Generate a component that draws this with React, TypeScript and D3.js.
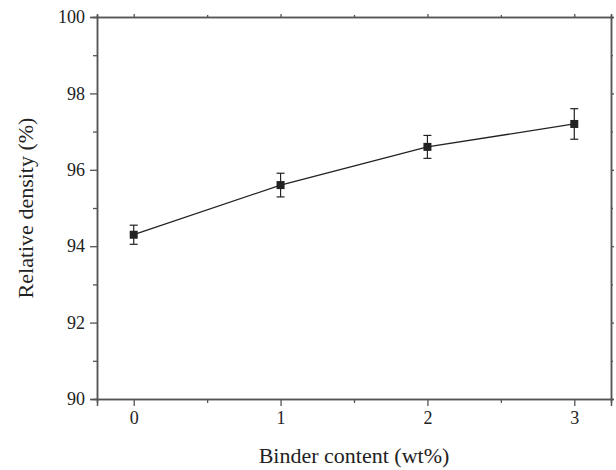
import React, { useRef, useEffect } from "react";
import * as d3 from "d3";

const binder = [0, 1, 2, 3];
const density = [94.3, 95.6, 96.6, 97.2];
const densityErr = [0.25, 0.31, 0.3, 0.4];
const xTicks = [0, 1, 2, 3];
const yTicks = [90, 92, 94, 96, 98, 100];

const W = 616;
const H = 470;
const margin = { top: 17, right: 5, bottom: 71, left: 97 };

const App = () => {
  const ref = useRef<SVGSVGElement>(null);

  useEffect(() => {
    const svg = d3.select(ref.current);
    svg.selectAll("*").remove();

    const iw = W - margin.left - margin.right;
    const ih = H - margin.top - margin.bottom;
    const x = d3.scaleLinear().domain([-0.25, 3.25]).range([0, iw]);
    const y = d3.scaleLinear().domain([90, 100]).range([ih, 0]);

    const g = svg
      .append("g")
      .attr("transform", `translate(${margin.left},${margin.top})`);

    const font = "'Liberation Serif', 'Times New Roman', serif";
    const axisColor = "#555";

    const minorX = d3.range(0, 3.01, 0.5).filter((v) => !xTicks.includes(v));
    const minorY = d3.range(91, 100, 2);
    const blank = () => "";

    // minor ticks first (own groups, so they don't replace the major ones)
    g.append("g")
      .attr("transform", `translate(0,${ih})`)
      .call(d3.axisBottom(x).tickValues(minorX).tickSize(4).tickFormat(blank));
    g.append("g").call(d3.axisLeft(y).tickValues(minorY).tickSize(4).tickFormat(blank));
    g.append("g").call(d3.axisTop(x).tickValues(minorX).tickSize(2).tickFormat(blank));
    g.append("g")
      .attr("transform", `translate(${iw},0)`)
      .call(d3.axisRight(y).tickValues(minorY).tickSize(2).tickFormat(blank));

    // major ticks
    g.append("g")
      .attr("transform", `translate(0,${ih})`)
      .call(d3.axisBottom(x).tickValues(xTicks).tickSize(7).tickPadding(5).tickFormat(d3.format("d")));
    g.append("g").call(
      d3.axisLeft(y).tickValues(yTicks).tickSize(7).tickPadding(5).tickFormat(d3.format("d"))
    );
    g.append("g").call(d3.axisTop(x).tickValues(xTicks).tickSize(3).tickFormat(blank));
    g.append("g")
      .attr("transform", `translate(${iw},0)`)
      .call(d3.axisRight(y).tickValues(yTicks).tickSize(3).tickFormat(blank));

    g.selectAll(".domain").attr("stroke", axisColor).attr("stroke-width", 1.5);
    g.selectAll(".tick line").attr("stroke", axisColor).attr("stroke-width", 1.3);
    g.selectAll(".tick text")
      .attr("fill", "#222")
      .style("font-family", font)
      .style("font-size", "18px");

    const pts = binder.map((b, i) => ({ b, v: density[i], e: densityErr[i] }));

    const line = d3
      .line<{ b: number; v: number }>()
      .x((d) => x(d.b))
      .y((d) => y(d.v));
    g.append("path")
      .datum(pts)
      .attr("d", line)
      .attr("fill", "none")
      .attr("stroke", "#222")
      .attr("stroke-width", 1.3);

    // error bars
    const eb = g
      .selectAll(".eb")
      .data(pts)
      .enter()
      .append("g")
      .attr("stroke", "#222")
      .attr("stroke-width", 1.2);
    eb.append("line")
      .attr("x1", (d) => x(d.b))
      .attr("x2", (d) => x(d.b))
      .attr("y1", (d) => y(d.v - d.e))
      .attr("y2", (d) => y(d.v + d.e));
    eb.append("line")
      .attr("x1", (d) => x(d.b) - 4)
      .attr("x2", (d) => x(d.b) + 4)
      .attr("y1", (d) => y(d.v + d.e))
      .attr("y2", (d) => y(d.v + d.e));
    eb.append("line")
      .attr("x1", (d) => x(d.b) - 4)
      .attr("x2", (d) => x(d.b) + 4)
      .attr("y1", (d) => y(d.v - d.e))
      .attr("y2", (d) => y(d.v - d.e));

    g.selectAll(".pt")
      .data(pts)
      .enter()
      .append("rect")
      .attr("x", (d) => x(d.b) - 4)
      .attr("y", (d) => y(d.v) - 4)
      .attr("width", 8)
      .attr("height", 8)
      .attr("fill", "#222");

    // axis titles
    svg
      .append("text")
      .attr("x", margin.left + x(1.5))
      .attr("y", 463)
      .attr("text-anchor", "middle")
      .style("font-family", font)
      .style("font-size", "22px")
      .attr("fill", "#222")
      .text("Binder content (wt%)");

    svg
      .append("text")
      .attr("transform", `translate(33,${margin.top + ih / 2}) rotate(-90)`)
      .attr("text-anchor", "middle")
      .style("font-family", font)
      .style("font-size", "22px")
      .attr("fill", "#222")
      .text("Relative density (%)");
  }, []);

  return (
    <svg
      ref={ref}
      width={W}
      height={H}
      style={{ position: "absolute", left: 0, top: 0, background: "#fff" }}
    />
  );
};

export default App;
